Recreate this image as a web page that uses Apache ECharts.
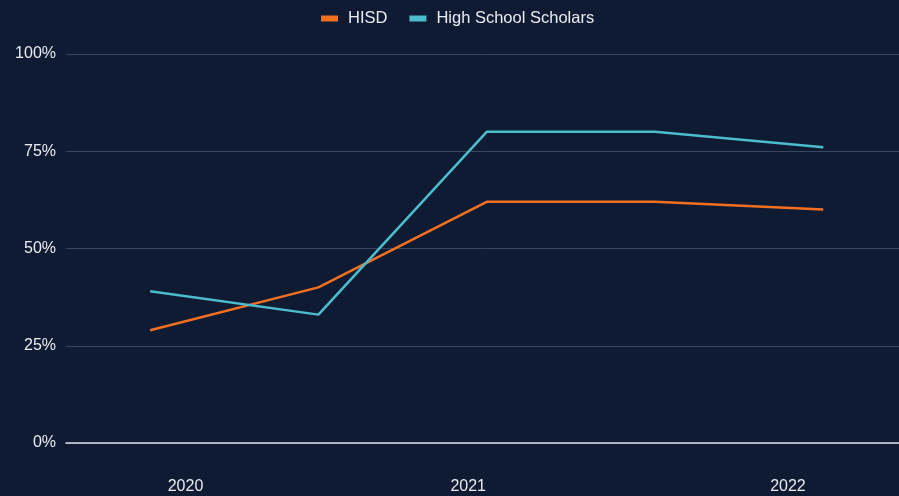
<!DOCTYPE html>
<html>
<head>
<meta charset="utf-8">
<script src="https://cdn.jsdelivr.net/npm/echarts@6/dist/echarts.min.js"></script>
<style>
html,body{margin:0;padding:0;background:#0f1b33;}
#chart{width:899px;height:496px;}
</style>
</head>
<body>
<div id="chart"></div>
<script>
// Data
var periods = [0, 1, 2, 3, 4];
var hisd = [29, 40, 62, 62, 60];
var scholars = [39, 33, 80, 80, 76];
var yearLabels = ['2020', '2021', '2022'];
var yearTickPositions = [0.21, 1.89, 3.79];
var yTicks = [0, 25, 50, 75, 100];

function pairs(xs, ys) { return xs.map(function (x, i) { return [x, ys[i]]; }); }

var chart = echarts.init(document.getElementById('chart'), null, {renderer: 'canvas'});
var textColor = '#e9ebef';
var font = '"Liberation Sans", Arial, sans-serif';
chart.setOption({
  backgroundColor: '#0f1b33',
  animation: false,
  legend: {
    top: 5,
    left: 316,
    icon: 'rect',
    itemWidth: 17,
    itemHeight: 6,
    itemGap: 22,
    textStyle: {color: textColor, fontSize: 16.5, fontFamily: font, padding: [0, 0, 0, 5]},
    data: ['HISD', 'High School Scholars']
  },
  grid: {left: 66, right: 0, top: 54, bottom: 53, containLabel: false},
  xAxis: {
    type: 'value',
    min: -0.5,
    max: 4.45,
    splitLine: {show: false},
    axisLine: {show: true, onZero: false, lineStyle: {color: '#dfe3ea', width: 1.5}},
    axisTick: {show: false},
    axisLabel: {
      color: textColor, fontSize: 16, fontFamily: font, margin: 36,
      customValues: yearTickPositions,
      formatter: function (v) {
        var i = yearTickPositions.indexOf(v);
        return i >= 0 ? yearLabels[i] : '';
      }
    }
  },
  yAxis: {
    type: 'value',
    min: yTicks[0],
    max: yTicks[yTicks.length - 1],
    interval: 25,
    axisLine: {show: false},
    axisTick: {show: false},
    axisLabel: {color: textColor, fontSize: 16, fontFamily: font, margin: 10, formatter: '{value}%'},
    splitLine: {lineStyle: {color: '#3a465e', width: 1}}
  },
  series: [
    {
      name: 'HISD', type: 'line', data: pairs(periods, hisd),
      symbol: 'none', color: '#f37021',
      lineStyle: {width: 2.5, color: '#f37021'}
    },
    {
      name: 'High School Scholars', type: 'line', data: pairs(periods, scholars),
      symbol: 'none', color: '#4cbdcc',
      lineStyle: {width: 2.5, color: '#4cbdcc'}
    }
  ]
});
</script>
</body>
</html>
